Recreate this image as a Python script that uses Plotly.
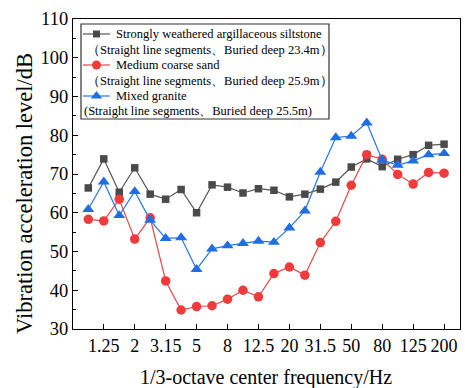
import plotly.graph_objects as go

freqs = ["1", "1.25", "1.6", "2", "2.5", "3.15", "4", "5", "6.3", "8", "10", "12.5",
         "16", "20", "25", "31.5", "40", "50", "63", "80", "100", "125", "160", "200"]
tick_labels = ["1.25", "2", "3.15", "5", "8", "12.5", "20", "31.5", "50", "80", "125", "200"]

siltstone = [66.4, 73.9, 65.3, 71.6, 64.8, 63.5, 66.0, 60.0, 67.2, 66.6, 65.1, 66.2,
             65.8, 64.1, 64.8, 66.1, 67.9, 71.8, 73.9, 71.9, 73.8, 75.0, 77.4, 77.7]
sand = [58.3, 57.9, 63.5, 53.2, 58.7, 42.4, 34.9, 35.8, 36.0, 37.7, 40.0, 38.3,
        44.3, 46.0, 43.9, 52.3, 57.8, 67.1, 75.0, 73.8, 69.9, 67.4, 70.4, 70.2]
granite = [60.9, 68.0, 59.3, 65.5, 58.1, 53.4, 53.6, 45.4, 50.7, 51.5, 52.1, 52.7,
           52.4, 56.1, 60.5, 70.5, 79.4, 79.8, 83.2, 73.6, 72.3, 73.4, 75.0, 75.3]

names = [
    ("Strongly weathered argillaceous siltstone", "（Straight line segments、Buried deep 23.4m）"),
    ("Medium coarse sand", "（Straight line segments、Buried deep 25.9m）"),
    ("Mixed granite", "(Straight line segments、Buried deep 25.5m)"),
]
colors = ["#4a4a4a", "#ef3b3b", "#1f6fe3"]
line_colors = ["#555555", "#ef4545", "#2a75e6"]
symbols = ["square", "circle", "triangle-up"]
sizes = [7.5, 9.5, 10.5]
series = [siltstone, sand, granite]

FONT = "'Liberation Serif', 'Times New Roman', Times, serif"
W, H = 465, 388
L, R, T, B = 73, 5, 19, 59
PW, PH = W - L - R, H - T - B


def px(x):
    return (x - L) / PW


def py(y):
    return (H - B - y) / PH


fig = go.Figure()
for s, c, lc, sym, sz in zip(series, colors, line_colors, symbols, sizes):
    fig.add_trace(go.Scatter(
        x=freqs, y=s, mode="lines+markers",
        line=dict(color=lc, width=1.2),
        marker=dict(symbol=sym, size=sz, color=c),
        showlegend=False, xaxis="x", yaxis="y"))

# legend keys on a pixel overlay axis
row_y = [34, 49.5, 65, 80.5, 96, 111.5]
for i in range(3):
    yk = row_y[2 * i]
    fig.add_trace(go.Scatter(
        x=[83, 110], y=[yk, yk], mode="lines",
        line=dict(color=line_colors[i], width=1.2),
        showlegend=False, xaxis="x2", yaxis="y2", hoverinfo="skip"))
    fig.add_trace(go.Scatter(
        x=[96.5], y=[yk], mode="markers",
        marker=dict(symbol=symbols[i], size=sizes[i] - 0.5, color=colors[i]),
        showlegend=False, xaxis="x2", yaxis="y2", hoverinfo="skip"))

annotations = []
for i, (n1, n2) in enumerate(names):
    annotations.append(dict(x=px(114), y=py(row_y[2 * i]), xref="paper", yref="paper", text=n1,
                            showarrow=False, xanchor="left", yanchor="middle",
                            font=dict(family=FONT, size=12.5, color="black")))
    annotations.append(dict(x=px(85 if i < 2 else 82), y=py(row_y[2 * i + 1]), xref="paper", yref="paper",
                            text=n2, showarrow=False, xanchor="left", yanchor="middle",
                            font=dict(family=FONT, size=12.5, color="black")))

annotations.append(dict(x=px(25), y=py(194), xref="paper", yref="paper",
                        text="Vibration acceleration level/dB",
                        textangle=-90, showarrow=False, xanchor="center", yanchor="middle",
                        font=dict(family=FONT, size=22.5, color="black")))
annotations.append(dict(x=px(266), y=py(378), xref="paper", yref="paper",
                        text="1/3-octave center frequency/Hz",
                        showarrow=False, xanchor="center", yanchor="middle",
                        font=dict(family=FONT, size=20, color="black")))

fig.update_layout(
    width=W, height=H,
    margin=dict(l=L, r=R, t=T, b=B),
    paper_bgcolor="white", plot_bgcolor="white",
    font=dict(family=FONT, color="black"),
    xaxis=dict(type="category", categoryorder="array", categoryarray=freqs,
               range=[-0.99, 24.03], tickmode="array", tickvals=tick_labels, ticktext=tick_labels,
               ticks="inside", ticklen=5, tickcolor="black", tickwidth=1,
               showline=True, linecolor="black", linewidth=1.3, mirror=True,
               showgrid=False, zeroline=False, tickfont=dict(size=18, family=FONT)),
    yaxis=dict(range=[30, 110], dtick=10, ticks="inside", ticklen=5, tickcolor="black",
               minor=dict(dtick=5, ticks="inside", ticklen=3, tickcolor="black"),
               showline=True, linecolor="black", linewidth=1.3, mirror=True,
               showgrid=False, zeroline=False, tickfont=dict(size=18.5, family=FONT)),
    xaxis2=dict(overlaying="x", range=[L, W - R], visible=False, fixedrange=True),
    yaxis2=dict(overlaying="y", range=[H - B, T], visible=False, fixedrange=True),
    shapes=[dict(type="rect", xref="paper", yref="paper", x0=px(81), x1=px(329), y0=py(24), y1=py(119),
                 line=dict(color="#333333", width=1.2), fillcolor="rgba(0,0,0,0)")],
    annotations=annotations,
)

fig.write_html("out.html")
